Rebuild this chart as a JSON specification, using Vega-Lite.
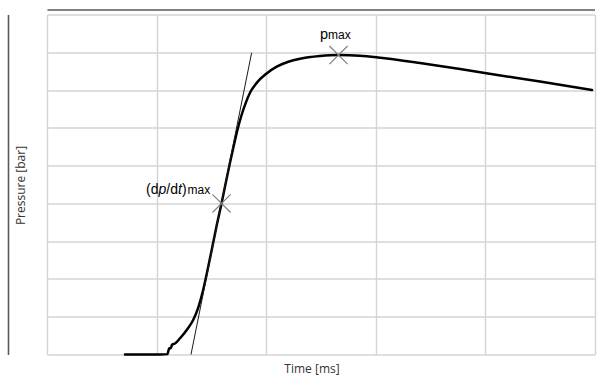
{
  "$schema": "https://vega.github.io/schema/vega-lite/v6.json",
  "width": 547.5,
  "height": 340,
  "autosize": "none",
  "padding": {"left": 47, "top": 14.5, "right": 17.5, "bottom": 23.5},
  "background": "white",
  "config": {
    "view": {"stroke": null},
    "axis": {
      "gridColor": "#d4d4d4",
      "gridWidth": 1.4,
      "gridOpacity": 1,
      "labels": false,
      "ticks": false,
      "titleFont": "Open Sans",
      "titleFontSize": 12,
      "titleFontWeight": "normal",
      "titleColor": "#333333"
    }
  },
  "datasets": {
    "curve": [
      {"t": 0.712, "p": 0.0},
      {"t": 1.032, "p": 0.0},
      {"t": 1.100, "p": 0.01},
      {"t": 1.115, "p": 0.16},
      {"t": 1.130, "p": 0.17},
      {"t": 1.142, "p": 0.26},
      {"t": 1.169, "p": 0.29},
      {"t": 1.215, "p": 0.43},
      {"t": 1.276, "p": 0.65},
      {"t": 1.336, "p": 0.92},
      {"t": 1.382, "p": 1.25},
      {"t": 1.427, "p": 1.72},
      {"t": 1.470, "p": 2.29},
      {"t": 1.510, "p": 2.85},
      {"t": 1.550, "p": 3.42},
      {"t": 1.594, "p": 4.0},
      {"t": 1.635, "p": 4.58},
      {"t": 1.670, "p": 5.06},
      {"t": 1.705, "p": 5.52},
      {"t": 1.738, "p": 5.93},
      {"t": 1.775, "p": 6.32},
      {"t": 1.815, "p": 6.66},
      {"t": 1.854, "p": 6.93},
      {"t": 1.915, "p": 7.19},
      {"t": 2.006, "p": 7.44},
      {"t": 2.098, "p": 7.62},
      {"t": 2.204, "p": 7.75},
      {"t": 2.311, "p": 7.83},
      {"t": 2.493, "p": 7.90},
      {"t": 2.662, "p": 7.927},
      {"t": 2.858, "p": 7.906},
      {"t": 3.023, "p": 7.861},
      {"t": 3.406, "p": 7.716},
      {"t": 3.772, "p": 7.557},
      {"t": 4.027, "p": 7.438},
      {"t": 4.502, "p": 7.226},
      {"t": 4.977, "p": 7.001}
    ],
    "tangent": [
      {"t": 1.315, "p": 0.0},
      {"t": 1.869, "p": 7.988}
    ],
    "markers": [
      {"name": "dpdt", "t": 1.594, "p": 4.0},
      {"name": "pmax", "t": 2.662, "p": 7.927}
    ]
  },
  "layer": [
    {
      "data": {"name": "curve"},
      "mark": {"type": "line", "color": "#000000", "strokeWidth": 2.5, "interpolate": "monotone", "strokeCap": "round"},
      "encoding": {
        "x": {
          "field": "t", "type": "quantitative",
          "scale": {"domain": [0, 5], "nice": false, "zero": false},
          "axis": {"values": [0, 1, 2, 3, 4, 5], "grid": true, "domain": false, "title": "Time [ms]", "titleX": 264.5, "titleY": 14, "titleBaseline": "middle", "titleAlign": "center"}
        },
        "y": {
          "field": "p", "type": "quantitative",
          "scale": {"domain": [0, 9], "nice": false, "zero": false},
          "axis": {"values": [0, 1, 2, 3, 4, 5, 6, 7, 8, 9], "grid": true, "domain": false, "title": "Pressure [bar]", "titleX": -27, "titleY": 170.5, "titleBaseline": "middle", "titleAlign": "center", "titleAngle": 270}
        }
      }
    },
    {
      "data": {"name": "tangent"},
      "mark": {"type": "line", "color": "#1a1a1a", "strokeWidth": 1},
      "encoding": {
        "x": {"field": "t", "type": "quantitative", "axis": {"orient": "top", "offset": 5, "grid": false, "domain": true, "domainColor": "#595959", "domainWidth": 1.6, "title": null}},
        "y": {"field": "p", "type": "quantitative", "axis": {"orient": "left", "offset": 39, "grid": false, "domain": true, "domainColor": "#595959", "domainWidth": 1.6, "title": null}}
      }
    },
    {
      "data": {"name": "markers"},
      "mark": {"type": "point", "shape": "M-1,-1L1,1M-1,1L1,-1", "filled": false, "stroke": "#808080", "strokeWidth": 1.2, "size": 330, "opacity": 1},
      "encoding": {
        "x": {"field": "t", "type": "quantitative", "axis": null},
        "y": {"field": "p", "type": "quantitative", "axis": null}
      }
    },
    {
      "data": {"name": "markers"},
      "transform": [{"filter": "datum.name === 'pmax'"}],
      "layer": [
        {"mark": {"type": "text", "text": "p", "align": "left", "baseline": "alphabetic", "dx": -18.5, "dy": -16, "font": "Liberation Sans", "fontSize": 14.5, "color": "#000000"}},
        {"mark": {"type": "text", "text": "max", "align": "left", "baseline": "alphabetic", "dx": -10.5, "dy": -16, "font": "Liberation Sans", "fontSize": 12, "color": "#000000"}}
      ],
      "encoding": {
        "x": {"field": "t", "type": "quantitative", "axis": null},
        "y": {"field": "p", "type": "quantitative", "axis": null}
      }
    },
    {
      "data": {"name": "markers"},
      "transform": [{"filter": "datum.name === 'dpdt'"}],
      "layer": [
        {"mark": {"type": "text", "text": "(d", "align": "left", "baseline": "alphabetic", "dx": -75.5, "dy": -9.5, "font": "Liberation Sans", "fontSize": 14, "color": "#000000"}},
        {"mark": {"type": "text", "text": "p", "align": "left", "baseline": "alphabetic", "dx": -63.1, "dy": -9.5, "font": "Liberation Sans", "fontSize": 14, "fontStyle": "italic", "color": "#000000"}},
        {"mark": {"type": "text", "text": "/d", "align": "left", "baseline": "alphabetic", "dx": -55.3, "dy": -9.5, "font": "Liberation Sans", "fontSize": 14, "color": "#000000"}},
        {"mark": {"type": "text", "text": "t", "align": "left", "baseline": "alphabetic", "dx": -43.6, "dy": -9.5, "font": "Liberation Sans", "fontSize": 14, "fontStyle": "italic", "color": "#000000"}},
        {"mark": {"type": "text", "text": ")", "align": "left", "baseline": "alphabetic", "dx": -39.5, "dy": -9.5, "font": "Liberation Sans", "fontSize": 14, "color": "#000000"}},
        {"mark": {"type": "text", "text": "max", "align": "left", "baseline": "alphabetic", "dx": -34.0, "dy": -9.5, "font": "Liberation Sans", "fontSize": 12, "color": "#000000"}}
      ],
      "encoding": {
        "x": {"field": "t", "type": "quantitative", "axis": null},
        "y": {"field": "p", "type": "quantitative", "axis": null}
      }
    }
  ],
  "resolve": {"axis": {"x": "independent", "y": "independent"}}
}
